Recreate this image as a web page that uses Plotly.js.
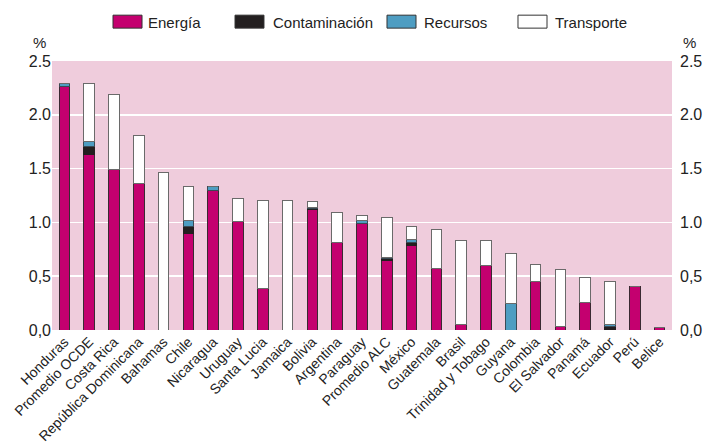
<!DOCTYPE html>
<html>
<head>
<meta charset="utf-8">
<script src="https://cdn.plot.ly/plotly-3.0.1.min.js"></script>
<style>html,body{margin:0;padding:0;background:#fff}#chart{width:704px;height:444px}</style>
</head>
<body>
<div id="chart"></div>
<script>
const categories = ["Honduras","Promedio OCDE","Costa Rica","República Dominicana","Bahamas","Chile","Nicaragua","Uruguay","Santa Lucia","Jamaica","Bolivia","Argentina","Paraguay","Promedio ALC","México","Guatemala","Brasil","Trinidad y Tobago","Guyana","Colombia","El Salvador","Panamá","Ecuador","Perú","Belice"];
const energia       = [2.26,1.63,1.49,1.36,0,   0.90,1.30,1.01,0.39,0,   1.12,0.81,0.99,0.65,0.79,0.57,0.05,0.60,0,   0.45,0.03,0.26,0,   0.40,0.02];
const contaminacion = [0,   0.08,0,   0,   0,   0.06,0,   0,   0,   0,   0.01,0,   0,   0.01,0.02,0,   0,   0,   0,   0,   0,   0,   0.03,0,   0];
const recursos      = [0.03,0.04,0,   0,   0,   0.06,0.03,0,   0,   0,   0.01,0,   0.03,0.01,0.03,0,   0,   0,   0.25,0,   0,   0,   0.02,0,   0];
const transporte    = [0,   0.54,0.70,0.45,1.46,0.31,0,   0.21,0.81,1.20,0.05,0.28,0.04,0.38,0.12,0.36,0.78,0.23,0.46,0.16,0.53,0.23,0.40,0,   0];
const tickVals = [0,0.5,1,1.5,2,2.5];
const tickText = ["0,0","0,5","1.0","1.5","2.0","2.5"];
const seriesNames = ['Energía','Contaminación','Recursos','Transporte'];
const seriesColors = ['#C4006F','#231F20','#4E9DC2','#FFFFFF'];
const seriesLines = ['#3a2a32','#231F20','#3a4a55','#6a6a6a'];
const seriesData = [energia, contaminacion, recursos, transporte];

const ff = '"Liberation Sans", Arial, Helvetica, sans-serif';
const data = seriesData.map((y,i)=>({type:'bar', name:seriesNames[i], x:categories, y:y, showlegend:false,
  marker:{color:seriesColors[i], line:{color:seriesLines[i], width:1}}}));
// invisible trace so the right-hand axis is drawn
data.push({type:'scatter', mode:'none', x:categories, y:energia.map(()=>null), yaxis:'y2', showlegend:false, hoverinfo:'skip'});

// manual legend (wide boxes like the reference)
const legBoxX = [[0.0984,0.1452],[0.2952,0.3419],[0.5403,0.5871],[0.7516,0.7984]];
const legTextX = [0.1516,0.3532,0.5968,0.8081];
const shapes = legBoxX.map((b,i)=>({type:'rect', xref:'paper', yref:'paper', x0:b[0], x1:b[1], y0:1.1222, y1:1.1704,
  fillcolor:seriesColors[i], line:{color:'#333', width:1}}));
const annotations = seriesNames.map((n,i)=>({text:n, xref:'paper', yref:'paper', x:legTextX[i], y:1.1444,
  xanchor:'left', yanchor:'middle', showarrow:false, font:{family:ff, size:15, color:'#222'}}));
annotations.push({text:'%', xref:'paper', yref:'paper', x:-0.006, y:1.0706, xanchor:'right', yanchor:'middle', showarrow:false, font:{family:ff,size:15,color:'#222'}});
annotations.push({text:'%', xref:'paper', yref:'paper', x:1.014, y:1.0706, xanchor:'left', yanchor:'middle', showarrow:false, font:{family:ff,size:15,color:'#222'}});

const layout = {
  width:704, height:444,
  margin:{l:52, r:32, t:61, b:114},
  barmode:'stack', bargap:0.58,
  paper_bgcolor:'#ffffff', plot_bgcolor:'#EFCCDC',
  font:{family:ff, size:15, color:'#222'},
  showlegend:false,
  xaxis:{tickangle:-45, showgrid:false, ticks:'', showline:false, zeroline:false,
    tickfont:{family:ff, size:14, color:'#222'}},
  yaxis:{range:[0,2.5], tickvals:tickVals, ticktext:tickText, showgrid:true, gridcolor:'#ffffff', gridwidth:1.5,
    zeroline:false, ticks:'', showline:false, tickfont:{family:ff, size:16, color:'#222'}},
  yaxis2:{range:[0,2.5], tickvals:tickVals, ticktext:tickText, overlaying:'y', side:'right', showgrid:false,
    zeroline:false, ticks:'', showline:false, ticklabelstandoff:7, tickfont:{family:ff, size:16, color:'#222'}},
  shapes:shapes,
  annotations:annotations
};
Plotly.newPlot('chart', data, layout, {displayModeBar:false, staticPlot:true});
</script>
</body>
</html>
